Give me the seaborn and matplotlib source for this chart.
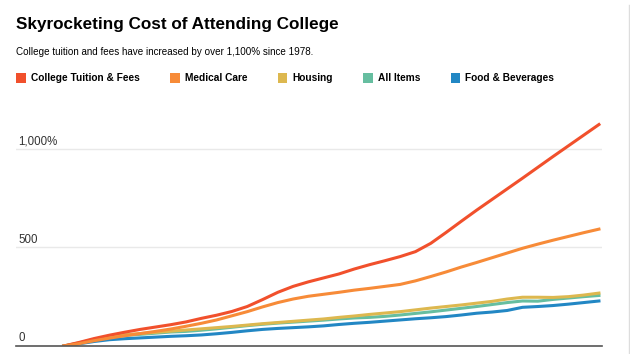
import numpy as np
import pandas as pd
import seaborn as sns
import matplotlib.pyplot as plt
from matplotlib.patches import Patch
from matplotlib.transforms import blended_transform_factory

years = list(range(1978, 2014))

tuition = [0, 18, 38, 55, 70, 84, 96, 108, 122, 140, 156, 175, 200, 235, 272, 302,
           325, 345, 365, 390, 412, 432, 453, 478, 520, 575, 632, 688, 742, 796, 850,
           905, 960, 1014, 1068, 1122]
medical = [0, 12, 27, 40, 52, 63, 74, 86, 100, 115, 132, 153, 174, 198, 220, 238,
           252, 262, 272, 283, 292, 302, 312, 330, 352, 375, 400, 423, 447, 471, 495,
           516, 536, 555, 574, 592]
housing = [0, 16, 34, 48, 57, 63, 69, 75, 81, 87, 93, 99, 106, 113, 119, 125,
           131, 137, 145, 152, 160, 167, 174, 183, 192, 200, 208, 217, 226, 238, 247,
           247, 246, 250, 258, 268]
all_items = [0, 14, 32, 46, 54, 59, 65, 71, 74, 80, 87, 95, 103, 110, 116, 121,
             126, 131, 137, 142, 145, 150, 157, 165, 173, 182, 191, 200, 210, 220, 228,
             227, 236, 243, 250, 256]
food = [0, 11, 23, 32, 37, 41, 45, 49, 52, 56, 62, 69, 77, 84, 89, 93,
        97, 102, 109, 115, 120, 126, 132, 138, 143, 149, 157, 166, 172, 180, 196,
        200, 205, 212, 220, 228]

series = ["College Tuition & Fees", "Medical Care", "Housing", "All Items", "Food & Beverages"]
colors = ["#F1502C", "#F78B38", "#DDB84F", "#66BEA0", "#2287C4"]
y_ticks = [0, 500, 1000]
y_labels = ["0", "500", "1,000%"]

df = pd.DataFrame({
    "year": years * 5,
    "pct": tuition + medical + housing + all_items + food,
    "series": np.repeat(series, len(years)),
})

plt.rcParams["font.family"] = ["Liberation Sans", "DejaVu Sans"]

fig = plt.figure(figsize=(6.3, 3.54), dpi=100)
ax = fig.add_axes([16 / 630, 1 - 346 / 354, 586 / 630, 227 / 354])

# draw order: orange ends up on top like the original
draw_order = ["Food & Beverages", "All Items", "Housing", "College Tuition & Fees", "Medical Care"]
sns.lineplot(data=df, x="year", y="pct", hue="series", hue_order=draw_order,
             palette=dict(zip(series, colors)), linewidth=2.2, legend=False, ax=ax)

ax.set_xlim(1974.88, 2013.2)
ax.set_ylim(0, 1150)
for s in ["top", "right", "left"]:
    ax.spines[s].set_visible(False)
ax.spines["bottom"].set_color("#555555")
ax.spines["bottom"].set_linewidth(1.2)
ax.set_xticks([])
ax.set_yticks([])
ax.set_xlabel("")
ax.set_ylabel("")
for t in y_ticks[1:]:
    ax.axhline(t, color="#e9e9e9", lw=1, zorder=0)
trans = blended_transform_factory(ax.transAxes, ax.transData)
for t, lab in zip(y_ticks, y_labels):
    ax.text(0.004, t + (8 if t == 0 else 6), lab, transform=trans, fontsize=8.3,
            color="#333333", ha="left", va="bottom")

fig.text(16 / 630, 1 - 24 / 354, "Skyrocketing Cost of Attending College",
         fontsize=12.3, fontweight="bold", ha="left", va="center")
fig.text(16 / 630, 1 - 52 / 354,
         "College tuition and fees have increased by over 1,100% since 1978.",
         fontsize=7.1, ha="left", va="center")

handles = [Patch(facecolor=c, edgecolor="none") for c in colors]
leg = fig.legend(handles, series, loc="center left", bbox_to_anchor=(7 / 630, 1 - 78 / 354),
                 ncol=5, frameon=False, handlelength=0.95, handleheight=1.2,
                 handletextpad=0.5, columnspacing=3.0, prop={"weight": "bold", "size": 7.3})

fig.add_artist(plt.Line2D([628.5 / 630, 628.5 / 630], [0, 0.985], color="#dddddd", lw=1))

fig.savefig("out.png", dpi=100)
